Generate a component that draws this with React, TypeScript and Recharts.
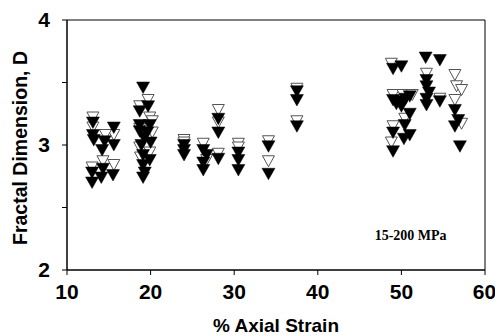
import React from 'react';
import { ScatterChart, Scatter, XAxis, YAxis, ReferenceArea, ReferenceDot } from 'recharts';

const xTicks = [10, 20, 30, 40, 50, 60];
const yTicks = [2, 2.5, 3, 3.5, 4];

const filledPoints = [
  { x: 13.1, y: 3.18 }, { x: 13.1, y: 3.08 }, { x: 13.2, y: 3.04 }, { x: 15.6, y: 3.14 },
  { x: 15.6, y: 3.0 }, { x: 14.5, y: 3.03 }, { x: 14.2, y: 2.96 }, { x: 14.3, y: 2.81 },
  { x: 13.0, y: 2.78 }, { x: 13.0, y: 2.7 }, { x: 14.1, y: 2.74 }, { x: 15.5, y: 2.76 },
  { x: 19.1, y: 3.46 }, { x: 19.7, y: 3.31 }, { x: 18.7, y: 3.27 }, { x: 19.9, y: 3.16 },
  { x: 18.7, y: 3.16 }, { x: 18.7, y: 3.11 }, { x: 19.6, y: 3.1 }, { x: 19.2, y: 3.06 },
  { x: 19.1, y: 2.92 }, { x: 19.9, y: 2.88 }, { x: 19.1, y: 2.84 }, { x: 19.3, y: 2.78 },
  { x: 19.1, y: 2.74 }, { x: 20.0, y: 3.02 }, { x: 18.9, y: 3.0 },
  { x: 24.0, y: 3.0 }, { x: 24.0, y: 2.96 }, { x: 24.0, y: 2.92 },
  { x: 26.3, y: 2.96 }, { x: 26.7, y: 2.92 }, { x: 26.3, y: 2.86 }, { x: 26.3, y: 2.8 },
  { x: 28.1, y: 2.89 }, { x: 28.1, y: 3.21 }, { x: 28.1, y: 3.1 },
  { x: 30.5, y: 2.94 }, { x: 30.5, y: 2.88 }, { x: 30.5, y: 2.8 },
  { x: 34.1, y: 2.99 }, { x: 34.1, y: 2.77 },
  { x: 37.5, y: 3.43 }, { x: 37.5, y: 3.36 }, { x: 37.5, y: 3.15 },
  { x: 49.0, y: 3.61 }, { x: 50.0, y: 3.63 }, { x: 49.0, y: 3.36 }, { x: 49.8, y: 3.35 },
  { x: 51.0, y: 3.39 }, { x: 50.0, y: 3.31 }, { x: 51.0, y: 3.25 }, { x: 50.4, y: 3.16 },
  { x: 49.0, y: 3.1 }, { x: 51.0, y: 3.08 }, { x: 49.0, y: 2.95 }, { x: 49.4, y: 3.33 },
  { x: 50.5, y: 3.37 }, { x: 50.3, y: 3.05 },
  { x: 52.9, y: 3.7 }, { x: 54.6, y: 3.68 }, { x: 53.0, y: 3.52 }, { x: 53.0, y: 3.47 },
  { x: 53.0, y: 3.37 }, { x: 53.0, y: 3.32 }, { x: 54.6, y: 3.35 }, { x: 53.3, y: 3.42 },
  { x: 56.4, y: 3.28 }, { x: 56.8, y: 3.2 }, { x: 56.4, y: 3.15 }, { x: 57.0, y: 2.99 },
];

const openPoints = [
  { x: 13.1, y: 3.22 }, { x: 13.1, y: 3.14 }, { x: 15.6, y: 3.08 }, { x: 14.6, y: 3.08 },
  { x: 14.3, y: 2.87 }, { x: 15.6, y: 2.84 }, { x: 13.0, y: 2.82 },
  { x: 19.7, y: 3.36 }, { x: 18.7, y: 3.31 }, { x: 19.9, y: 3.22 }, { x: 20.2, y: 3.19 },
  { x: 18.7, y: 3.13 }, { x: 18.7, y: 2.98 }, { x: 19.9, y: 2.94 }, { x: 18.8, y: 2.9 },
  { x: 20.2, y: 3.1 },
  { x: 24.0, y: 3.04 }, { x: 24.0, y: 3.02 },
  { x: 26.3, y: 3.01 }, { x: 26.7, y: 2.88 }, { x: 28.1, y: 2.93 }, { x: 28.1, y: 3.28 },
  { x: 28.1, y: 3.18 },
  { x: 30.5, y: 3.01 }, { x: 30.5, y: 2.98 },
  { x: 34.1, y: 3.03 }, { x: 34.1, y: 2.87 },
  { x: 37.5, y: 3.45 }, { x: 37.5, y: 3.19 },
  { x: 48.8, y: 3.65 }, { x: 49.0, y: 3.4 }, { x: 50.2, y: 3.4 }, { x: 50.4, y: 3.21 },
  { x: 49.0, y: 3.15 }, { x: 48.8, y: 3.02 }, { x: 51.3, y: 3.4 },
  { x: 53.0, y: 3.57 }, { x: 54.6, y: 3.37 },
  { x: 56.4, y: 3.56 }, { x: 56.6, y: 3.47 }, { x: 57.2, y: 3.44 }, { x: 56.4, y: 3.36 },
  { x: 57.2, y: 3.17 },
];

const annotation = { x: 51.1, y: 2.28, text: '15-200 MPa' };

const FilledTri = (props: any) => {
  const { cx, cy } = props;
  return (
    <polygon
      points={`${cx - 6.5},${cy - 5.5} ${cx + 6.5},${cy - 5.5} ${cx},${cy + 6}`}
      fill="#000"
      stroke="#000"
      strokeWidth={0.5}
    />
  );
};

const OpenTri = (props: any) => {
  const { cx, cy } = props;
  return (
    <polygon
      points={`${cx - 6},${cy - 5.5} ${cx + 6},${cy - 5.5} ${cx},${cy + 5.5}`}
      fill="#fff"
      stroke="#555"
      strokeWidth={1}
    />
  );
};

const sans = 'Liberation Sans, Arial, sans-serif';
const tickFont = { fontFamily: sans, fontWeight: 'bold', fontSize: 21, fill: '#000' };

export default function App() {
  return (
    <div style={{ position: 'absolute', left: 0, top: 0, background: '#fff' }}>
      <ScatterChart width={495} height={336} margin={{ top: 20, right: 10, bottom: 0, left: 0 }}>
        <XAxis
          type="number"
          dataKey="x"
          domain={[10, 60]}
          ticks={xTicks}
          allowDataOverflow
          height={66}
          tickSize={5}
          tickMargin={9}
          stroke="#000"
          tick={tickFont}
          label={{
            value: '% Axial Strain',
            position: 'insideBottom',
            offset: 4,
            style: { fontFamily: sans, fontWeight: 'bold', fontSize: 19, fill: '#000' },
          }}
        />
        <YAxis
          type="number"
          dataKey="y"
          domain={[2, 4]}
          ticks={yTicks}
          allowDataOverflow
          width={67}
          tickSize={5}
          tickMargin={12}
          stroke="#000"
          tick={tickFont}
          tickFormatter={(v: number) => (Number.isInteger(v) ? String(v) : '')}
          label={{
            value: 'Fractal Dimension, D',
            angle: -90,
            position: 'insideLeft',
            offset: 20,
            dy: 100,
            style: { fontFamily: sans, fontWeight: 'bold', fontSize: 19.5, fill: '#000' },
          }}
        />
        <ReferenceArea x1={10} x2={60} y1={2} y2={4} fill="none" stroke="#000" strokeWidth={1} fillOpacity={0} />
        <Scatter data={openPoints} shape={OpenTri} isAnimationActive={false} />
        <Scatter data={filledPoints} shape={FilledTri} isAnimationActive={false} />
        <ReferenceDot
          x={annotation.x}
          y={annotation.y}
          r={0}
          fill="none"
          stroke="none"
          label={{
            value: annotation.text,
            position: 'center',
            fontFamily: 'Liberation Serif, Times New Roman, serif',
            fontWeight: 'bold',
            fontSize: 14,
            fill: '#000',
          }}
        />
      </ScatterChart>
    </div>
  );
}
